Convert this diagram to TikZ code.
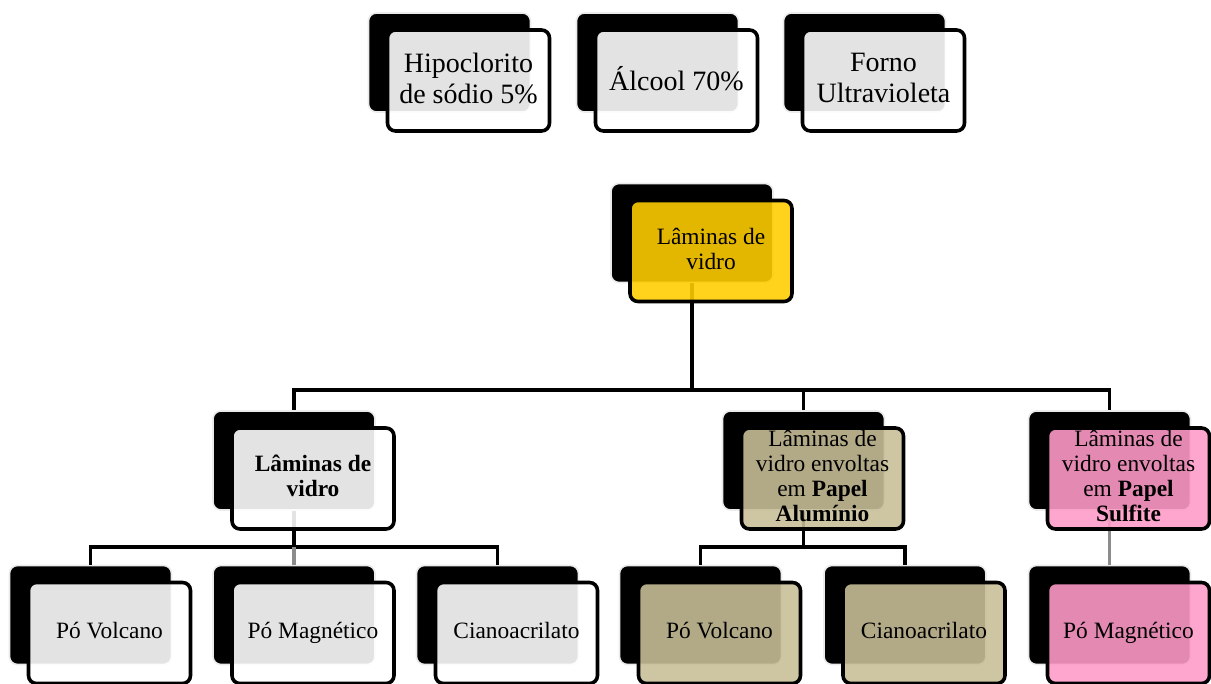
\documentclass[tikz,border=0pt]{standalone}
\usepackage{fontspec}
\setmainfont{Liberation Serif}
\usetikzlibrary{calc}
\definecolor{cardY}{RGB}{255,205,0}
\definecolor{cardT}{RGB}{200,190,152}
\definecolor{cardP}{RGB}{255,155,200}
\tikzset{cardback/.style={fill=black, draw=black!8, line width=0.8pt, rounded corners=4pt,
  minimum width=81pt, minimum height=49.5pt, inner sep=0pt},
  card/.style={draw=black, line width=1.8pt, rounded corners=4pt, fill=white, fill opacity=0.89,
  text opacity=1, minimum width=81pt, minimum height=50.5pt, inner sep=0pt, align=center,
  text depth=0.25em, font=\fontsize{11.7}{12.4}\selectfont},
  cardbig/.style={font=\fontsize{14}{15.5}\selectfont},
  link/.style={line width=1.7pt}}

\begin{document}
\begin{tikzpicture}[x=0.5pt, y=-0.5pt]
\useasboundingbox (0,0) rectangle (1211,684);
% shadows behind the cards
\node[cardback] (hip-b) at (449.5,62.5) {};
\node[cardback] (alc-b) at (657.5,62.5) {};
\node[cardback] (uv-b) at (864.5,62.5) {};
\node[cardback] (lam-b) at (692,233) {};
\node[cardback] (vid-b) at (294,460.5) {};
\node[cardback] (alu-b) at (803.5,460.5) {};
\node[cardback] (sul-b) at (1109.5,460.5) {};
\node[cardback] (volA-b) at (90.5,615) {};
\node[cardback] (magA-b) at (294,615) {};
\node[cardback] (ciaA-b) at (497.5,615) {};
\node[cardback] (volB-b) at (700.5,615) {};
\node[cardback] (ciaB-b) at (905,615) {};
\node[cardback] (magC-b) at (1109.5,615) {};
% buses
\coordinate (bus1) at (0,390);
\coordinate (bus2) at (0,547);
\draw[link] (lam-b.south) -- (lam-b.south |- bus1);
\draw[link] (vid-b.north) |- (bus1 -| sul-b.north) -- (sul-b.north);
\draw[link] (alu-b.north) -- (alu-b.north |- bus1);
\draw[link] (vid-b.south) -- (vid-b.south |- bus2);
\draw[link] (volA-b.north) |- (bus2 -| ciaA-b.north) -- (ciaA-b.north);
\draw[link, black!45] (magA-b.north) -- (magA-b.north |- bus2);
\draw[link] (alu-b.south) -- (alu-b.south |- bus2);
\draw[link] (volB-b.north) |- (bus2 -| ciaB-b.north) -- (ciaB-b.north);
\draw[link, black!45] (sul-b.south) -- (magC-b.north);
% cards
\node[card, cardbig] (hip) at ($(hip-b)+(19,18)$) {Hipoclorito\\de sódio 5\%};
\node[card, cardbig] (alc) at ($(alc-b)+(19,18)$) {Álcool 70\%};
\node[card, cardbig] (uv) at ($(uv-b)+(19,18)$) {Forno\\Ultravioleta};
\node[card, fill=cardY] (lam) at ($(lam-b)+(19,18)$) {Lâminas de\\vidro};
\node[card] (vid) at ($(vid-b)+(19,18)$) {\textbf{Lâminas de}\\\textbf{vidro}};
\node[card, fill=cardT] (alu) at ($(alu-b)+(19,18)$) {Lâminas de\\vidro envoltas\\em \textbf{Papel}\\\textbf{Alumínio}};
\node[card, fill=cardP] (sul) at ($(sul-b)+(19,18)$) {Lâminas de\\vidro envoltas\\em \textbf{Papel}\\\textbf{Sulfite}};
\node[card] (volA) at ($(volA-b)+(19,18)$) {Pó Volcano};
\node[card] (magA) at ($(magA-b)+(19,18)$) {Pó Magnético};
\node[card] (ciaA) at ($(ciaA-b)+(19,18)$) {Cianoacrilato};
\node[card, fill=cardT] (volB) at ($(volB-b)+(19,18)$) {Pó Volcano};
\node[card, fill=cardT] (ciaB) at ($(ciaB-b)+(19,18)$) {Cianoacrilato};
\node[card, fill=cardP] (magC) at ($(magC-b)+(19,18)$) {Pó Magnético};
\end{tikzpicture}
\end{document}
